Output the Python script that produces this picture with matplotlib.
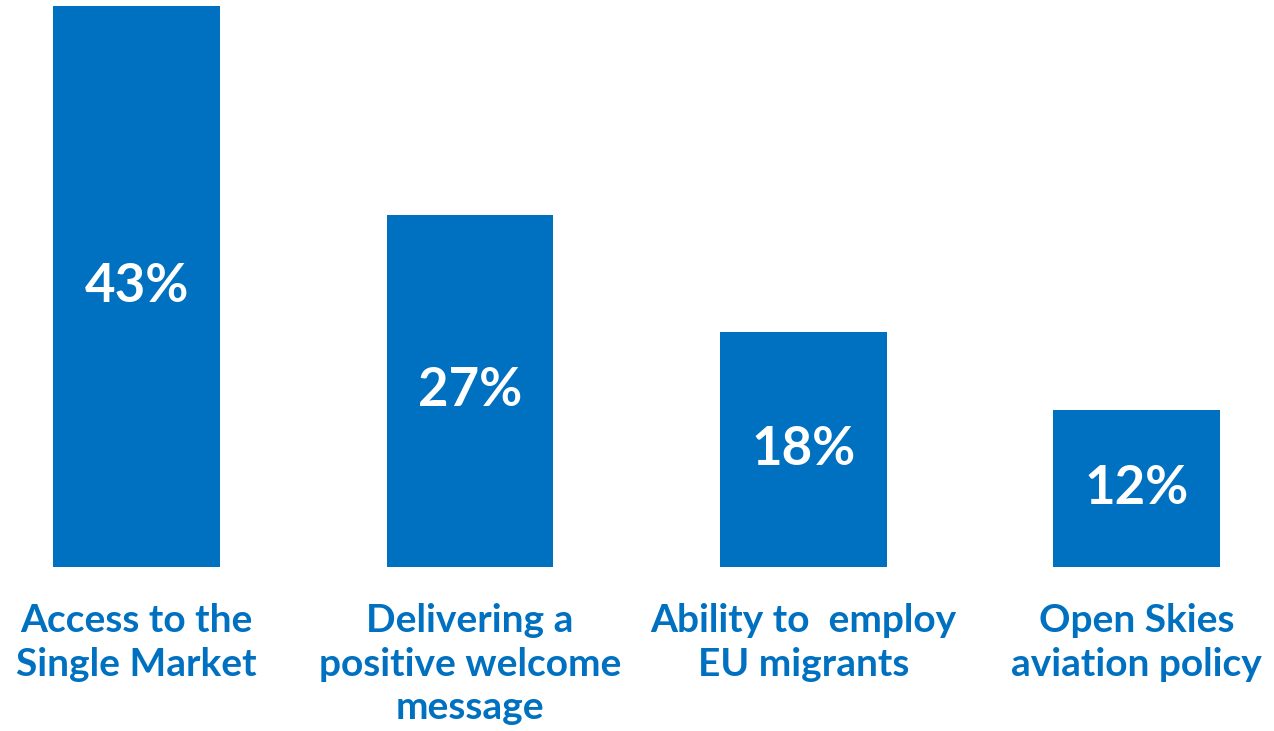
import matplotlib.pyplot as plt

categories = ["Access to the\nSingle Market",
              "Delivering a\npositive welcome\nmessage",
              "Ability to  employ\nEU migrants",
              "Open Skies\naviation policy"]
values = [43, 27, 18, 12]

blue = "#0070C0"

fig = plt.figure(figsize=(12.74, 7.31), dpi=100)
ax = fig.add_axes([0, 0.2244, 1, 0.7756])

x = range(len(values))
bars = ax.bar(x, values, width=0.5, color=blue)

ax.set_xlim(-0.41, 3.412)
ax.set_ylim(0, 43.46)
ax.axis("off")

# percentages in the middle of each bar
for xi, v in zip(x, values):
    ax.text(xi, v / 2, f"{v}%", ha="center", va="center", color="white",
            fontsize=38, fontweight="bold", family="Lato")

# category names under the bars
for xi, name in zip(x, categories):
    ax.annotate(name, xy=(xi, 0), xytext=(0, -26), textcoords="offset points",
                ha="center", va="top", color=blue, fontsize=28,
                fontweight="bold", family="Lato", linespacing=1.3)

fig.savefig("out.png", dpi=100)
